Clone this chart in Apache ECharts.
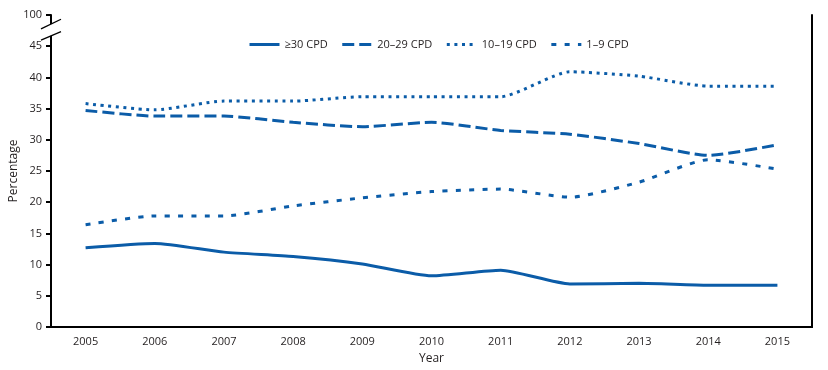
<!DOCTYPE html>
<html>
<head>
<meta charset="utf-8">
<script src="https://cdn.jsdelivr.net/npm/echarts@6/dist/echarts.min.js"></script>
<style>
html,body{margin:0;padding:0;background:#fff;}
#chart{width:828px;height:370px;}
</style>
</head>
<body>
<div id="chart"></div>
<script>
// ---- data ----
const years = ['2005','2006','2007','2008','2009','2010','2011','2012','2013','2014','2015'];
const seriesNames = ['\u226530 CPD', '20\u201329 CPD', '10\u201319 CPD', '1\u20139 CPD'];
const cpd30plus = [12.7, 13.4, 12.0, 11.3, 10.1, 8.2, 9.1, 6.9, 7.0, 6.7, 6.7];
const cpd20to29 = [34.7, 33.8, 33.8, 32.8, 32.1, 32.8, 31.5, 30.9, 29.4, 27.5, 29.2];
const cpd10to19 = [35.8, 34.8, 36.2, 36.2, 36.9, 36.9, 36.9, 40.9, 40.2, 38.6, 38.6];
const cpd1to9   = [16.4, 17.8, 17.8, 19.4, 20.7, 21.7, 22.1, 20.8, 23.2, 26.8, 25.3];
const yTickLabels = ['0','5','10','15','20','25','30','35','40','45','100'];
// ----------------

const BLUE = '#0b5ca8';
const TXT = '#231f20';
const FONT = '"Open Sans", "Noto Sans", sans-serif';
const chart = echarts.init(document.getElementById('chart'), null, {renderer: 'canvas'});

function lineSeries(name, data, dash) {
  return {
    name: name, type: 'line', data: data, symbol: 'none', smooth: 0.2,
    xAxisIndex: 0, yAxisIndex: 0,
    lineStyle: {color: BLUE, width: 3, type: dash, cap: 'butt'},
    itemStyle: {color: BLUE},
    emphasis: {disabled: true}
  };
}

const option = {
  animation: false,
  textStyle: {fontFamily: FONT, color: TXT},
  grid: {left: 51, right: 16, top: 15, bottom: 43, containLabel: false, outerBoundsMode: 'none'},
  legend: {
    left: 243, top: 34, itemWidth: 30, itemHeight: 12, itemGap: 13,
    textStyle: {fontFamily: FONT, fontSize: 11, color: TXT},
    itemStyle: {opacity: 0, borderWidth: 0},
    lineStyle: {width: 3},
    data: seriesNames
  },
  xAxis: [{
    type: 'category', data: years, boundaryGap: true, position: 'bottom',
    name: 'Year', nameLocation: 'middle', nameGap: 26, nameMoveOverlap: false,
    nameTextStyle: {fontFamily: FONT, fontSize: 12, color: TXT},
    axisLine: {lineStyle: {color: '#000', width: 2}},
    axisTick: {alignWithLabel: true, length: 5, lineStyle: {color: '#000', width: 2}},
    axisLabel: {fontFamily: FONT, fontSize: 11, color: TXT, margin: 9},
    splitLine: {show: false}
  }, {
    type: 'category', data: years, position: 'top', boundaryGap: true,
    axisLine: {lineStyle: {color: '#000', width: 2}},
    axisTick: {show: false}, axisLabel: {show: false}, splitLine: {show: false}
  }],
  yAxis: [{
    type: 'value', min: 0, max: 50, interval: 5, position: 'left',
    name: 'Percentage', nameLocation: 'middle', nameGap: 31, nameMoveOverlap: false,
    nameTextStyle: {fontFamily: FONT, fontSize: 12, color: TXT},
    axisLine: {show: true, lineStyle: {color: '#000', width: 2}},
    axisTick: {show: true, length: 5, lineStyle: {color: '#000', width: 2}},
    axisLabel: {
      fontFamily: FONT, fontSize: 11, color: TXT, margin: 9,
      formatter: function (v) { return yTickLabels[Math.round(v / 5)]; }
    },
    splitLine: {show: false}
  }, {
    type: 'value', min: 0, max: 50, position: 'right',
    axisLine: {show: true, lineStyle: {color: '#000', width: 2}},
    axisTick: {show: false}, axisLabel: {show: false}, splitLine: {show: false}
  }],
  series: [
    lineSeries(seriesNames[0], cpd30plus, 'solid'),
    lineSeries(seriesNames[1], cpd20to29, [12, 5]),
    lineSeries(seriesNames[2], cpd10to19, [3, 4.6]),
    lineSeries(seriesNames[3], cpd1to9, [5, 8.3])
  ]
};
chart.setOption(option);

// axis break marks, positioned through the axis scales
const c0 = chart.convertToPixel({xAxisIndex: 0}, years[0]);
const c1 = chart.convertToPixel({xAxisIndex: 0}, years[1]);
const axisX = c0 - (c1 - c0) / 2;
const breakLow = chart.convertToPixel({yAxisIndex: 0}, 46.65);
const breakHigh = chart.convertToPixel({yAxisIndex: 0}, 48.55);
chart.setOption({
  graphic: [
    {type: 'rect', z: 100, silent: true,
     shape: {x: axisX - 3, y: breakHigh, width: 6, height: breakLow - breakHigh},
     style: {fill: '#fff'}},
    {type: 'line', z: 101, silent: true,
     shape: {x1: axisX - 10, y1: breakLow + 4.2, x2: axisX + 10, y2: breakLow - 4.2},
     style: {stroke: '#000', lineWidth: 1.3}},
    {type: 'line', z: 101, silent: true,
     shape: {x1: axisX - 10, y1: breakHigh + 4.8, x2: axisX + 10, y2: breakHigh - 4.8},
     style: {stroke: '#000', lineWidth: 1.3}}
  ]
});
</script>
</body>
</html>
